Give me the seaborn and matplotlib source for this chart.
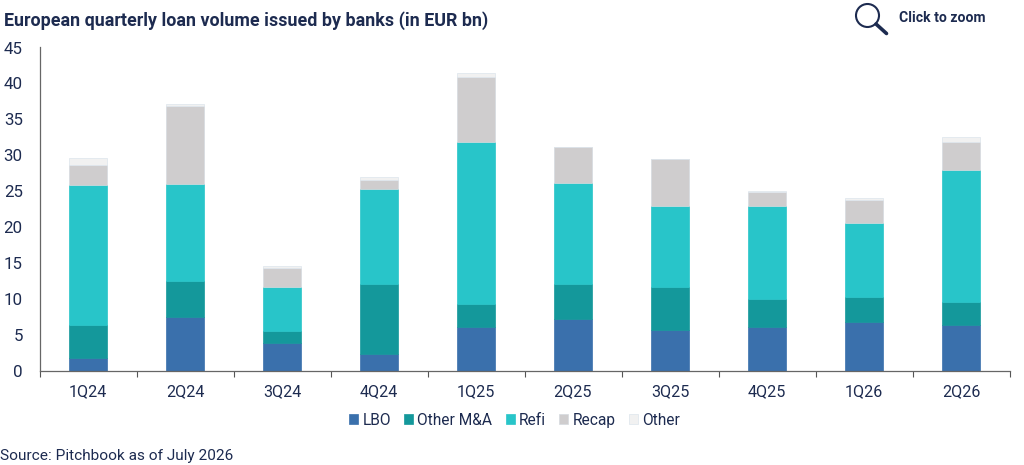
import matplotlib
matplotlib.use("Agg")
import matplotlib.pyplot as plt
from matplotlib.lines import Line2D
from matplotlib.patches import Ellipse, Patch
import seaborn as sns
import pandas as pd

quarters = ["1Q24", "2Q24", "3Q24", "4Q24", "1Q25", "2Q25", "3Q25", "4Q25", "1Q26", "2Q26"]
lbo = [1.7, 7.5, 3.8, 2.3, 6.0, 7.2, 5.7, 6.0, 6.8, 6.4]
other_ma = [4.7, 5.0, 1.7, 9.8, 3.3, 4.9, 5.9, 4.0, 3.4, 3.2]
refi = [19.4, 13.5, 6.2, 13.2, 22.5, 14.0, 11.3, 12.9, 10.3, 18.4]
recap = [2.8, 10.8, 2.6, 1.3, 9.1, 5.0, 6.5, 1.9, 3.3, 3.8]
other = [1.0, 0.3, 0.3, 0.3, 0.6, 0.1, 0.1, 0.2, 0.2, 0.8]

series_names = ["LBO", "Other M&A", "Refi", "Recap", "Other"]
series_values = [lbo, other_ma, refi, recap, other]
colors = ["#3A70AC", "#14989B", "#28C5C9", "#CFCDCE", "#F1F1F1"]
edges = ["#3A70AC", "#14989B", "#28C5C9", "#D5DADF", "#DDE5EC"]
navy = "#1D2B50"

sns.set_theme(style="white")
plt.rcParams["font.family"] = ["Roboto", "DejaVu Sans"]

fig = plt.figure(figsize=(10.24, 4.65), dpi=100)
ax = fig.add_axes([39.5 / 1024, 1 - 370.5 / 465, 970 / 1024, 323 / 465])

df = pd.DataFrame({"quarter": quarters})
bottom = [0.0] * len(quarters)
for name, values, color, edge in zip(series_names, series_values, colors, edges):
    df[name] = values
    sns.barplot(data=df, x="quarter", y=name, ax=ax, color=color, saturation=1,
                width=0.4, bottom=bottom, edgecolor=edge, linewidth=0.5,
                errorbar=None, order=quarters)
    bottom = [b + v for b, v in zip(bottom, values)]

ax.set_xlim(-0.5, 9.5)
ax.set_ylim(0, 45)
ax.set_yticks(range(0, 46, 5))
ax.set_xlabel("")
ax.set_ylabel("")
ax.set_xticks([i - 0.5 for i in range(11)], minor=True)
ax.tick_params(axis="x", which="major", length=0, labelsize=11.6, labelcolor=navy, pad=9.5)
ax.tick_params(axis="x", which="minor", bottom=True, length=4, width=0.8, color="#555555")
ax.tick_params(axis="y", left=False, labelsize=12.2, labelcolor=navy, pad=6)
for side in ["top", "right"]:
    ax.spines[side].set_visible(False)
for side in ["left", "bottom"]:
    ax.spines[side].set_color("#666666")
    ax.spines[side].set_linewidth(0.9)

handles = [Patch(facecolor=c, edgecolor=e, linewidth=0.5) for c, e in zip(colors, edges)]
fig.legend(handles, series_names, loc="center", bbox_to_anchor=(514.5 / 1024, 1 - 420 / 465),
           ncol=5, frameon=False, fontsize=11.2, labelcolor=navy, handlelength=0.58,
           handleheight=0.58, handletextpad=0.27, columnspacing=0.85)

fig.text(4 / 1024, 1 - 21 / 465, "European quarterly loan volume issued by banks (in EUR bn)",
         fontsize=12.9, fontweight="bold", color=navy, va="center", ha="left")
fig.text(0 / 1024, 1 - 456 / 465, "Source: Pitchbook as of July 2026",
         fontsize=11.1, color=navy, va="center", ha="left")
fig.text(899 / 1024, 1 - 18 / 465, "Click to zoom",
         fontsize=10.1, fontweight="bold", color=navy, va="center", ha="left")

# magnifier icon
fig.add_artist(Ellipse((867.5 / 1024, 1 - 15.5 / 465), 23 / 1024, 23 / 465, fill=False,
                       edgecolor=navy, linewidth=1.5, transform=fig.transFigure))
fig.add_artist(Line2D([876 / 1024, 886.5 / 1024], [1 - 24 / 465, 1 - 33.5 / 465], color=navy,
                      linewidth=2.6, transform=fig.transFigure))

fig.savefig("out.png", dpi=100)
